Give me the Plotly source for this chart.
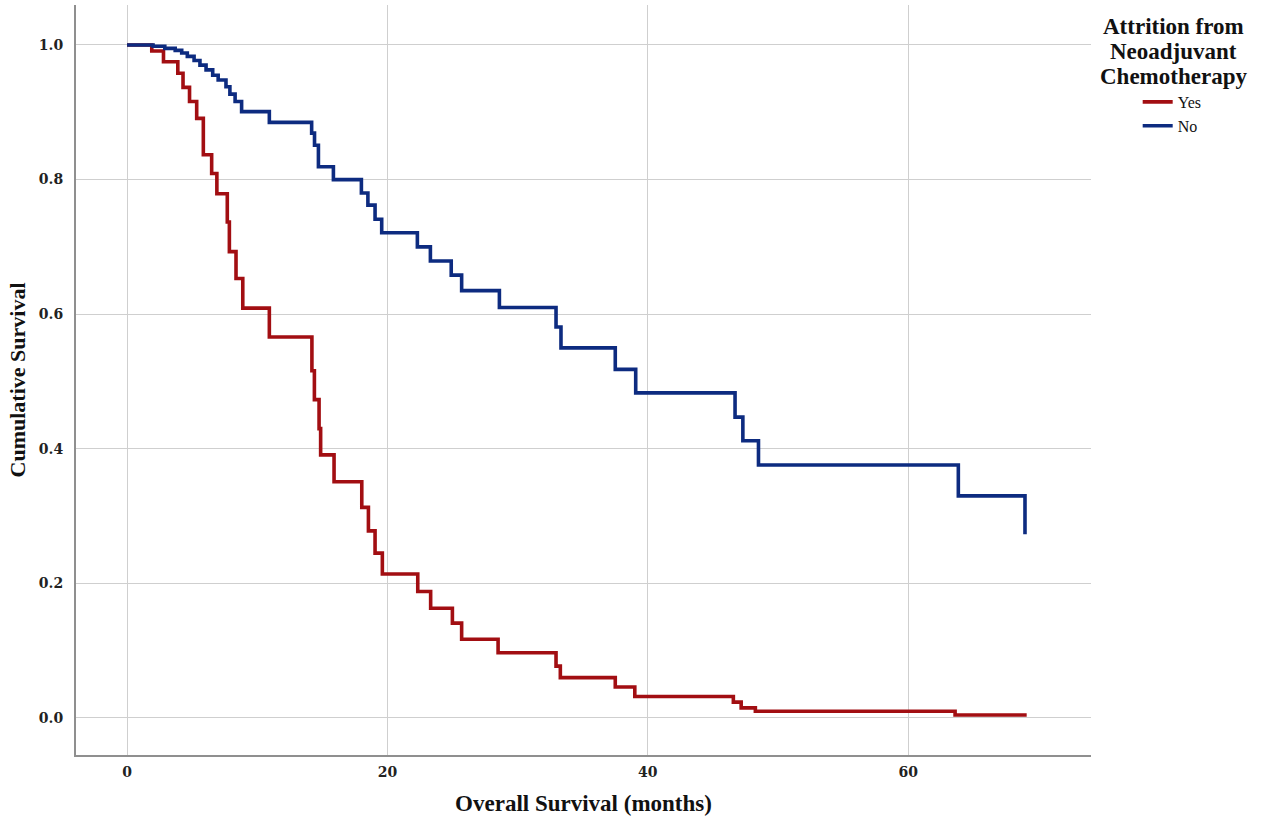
import plotly.graph_objects as go

# Kaplan-Meier step data
yes_time = [0, 1.9, 2.8, 3.9, 4.3, 4.8, 5.35, 5.86, 6.5, 6.9, 7.7, 7.86, 8.37, 8.89,
            10.93, 14.2, 14.39, 14.75, 14.87, 15.9, 18.03, 18.54, 19.05, 19.61,
            22.33, 23.32, 24.99, 25.7, 28.5, 32.95, 33.28, 37.5, 39.0, 46.57,
            47.17, 48.26, 63.6, 69.1]
yes_surv = [1.0, 0.991, 0.975, 0.958, 0.937, 0.916, 0.891, 0.837, 0.809, 0.779, 0.737,
            0.693, 0.653, 0.609, 0.566, 0.516, 0.473, 0.430, 0.391, 0.351, 0.313,
            0.278, 0.245, 0.214, 0.188, 0.163, 0.141, 0.117, 0.097, 0.077, 0.060,
            0.046, 0.032, 0.0235, 0.015, 0.010, 0.0045, 0.0045]

no_time = [0, 2.0, 2.9, 3.7, 4.2, 4.63, 5.15, 5.6, 6.07, 6.58, 7.0, 7.6, 7.9, 8.3, 8.8,
           10.93, 14.18, 14.4, 14.7, 15.85, 18.0, 18.5, 19.05, 19.56, 22.3, 23.3,
           24.9, 25.7, 28.6, 32.95, 33.33, 37.5, 39.07, 46.7, 47.3, 48.5, 63.85, 68.97]
no_surv = [1.0, 0.998, 0.995, 0.992, 0.988, 0.983, 0.977, 0.970, 0.963, 0.955, 0.948,
           0.938, 0.927, 0.916, 0.901, 0.885, 0.869, 0.851, 0.819, 0.800, 0.780,
           0.762, 0.741, 0.721, 0.700, 0.679, 0.658, 0.635, 0.610, 0.581, 0.550,
           0.518, 0.483, 0.447, 0.412, 0.376, 0.330, 0.273]

x_ticks = [0, 20, 40, 60]
y_ticks = [0.0, 0.2, 0.4, 0.6, 0.8, 1.0]
y_tick_labels = ["0.0", "0.2", "0.4", "0.6", "0.8", "1.0"]

legend_title_lines = ["Attrition from", "Neoadjuvant", "Chemotherapy"]

RED = "#A20E12"
BLUE = "#0D2B80"

fig = go.Figure()
fig.add_trace(go.Scatter(x=yes_time, y=yes_surv, mode="lines", name="Yes",
                         line=dict(color=RED, width=3.6, shape="hv")))
fig.add_trace(go.Scatter(x=no_time, y=no_surv, mode="lines", name="No",
                         line=dict(color=BLUE, width=3.6, shape="hv")))

W, H = 1272, 827
L, R, T, B = 76, 181, 5, 72

tick_font = dict(family="DejaVu Serif", size=14, color="#222222", weight="bold")
title_font = dict(family="Liberation Serif", size=22, color="#111111")

fig.update_layout(
    width=W, height=H,
    margin=dict(l=L, r=R, t=T, b=B, autoexpand=False),
    paper_bgcolor="white", plot_bgcolor="white",
    showlegend=True,
    legend=dict(x=1.046, y=(755 - 85) / 750, xanchor="left", yanchor="top",
                font=dict(family="Liberation Serif", size=16, color="#111111"),
                tracegroupgap=0, itemwidth=30, bgcolor="rgba(0,0,0,0)"),
    xaxis=dict(range=[-3.92, 74.04], tickvals=x_ticks, ticks="",
               showgrid=True, gridcolor="#CFCFCF", gridwidth=1,
               showline=True, linecolor="#8F8F8F", linewidth=2, zeroline=False,
               tickfont=tick_font, ticklabelstandoff=3,
               title=dict(text="<b>Overall Survival (months)</b>",
                          font=dict(family="Liberation Serif", size=23, color="#111111"),
                          standoff=16)),
    yaxis=dict(range=[-0.055, 1.0594], tickvals=y_ticks, ticktext=y_tick_labels, ticks="",
               showgrid=True, gridcolor="#CFCFCF", gridwidth=1,
               showline=True, linecolor="#8F8F8F", linewidth=2, zeroline=False,
               tickfont=tick_font, ticklabelstandoff=8,
               title=dict(text="<b>Cumulative Survival</b>", font=title_font, standoff=7)),
)

title_centers_px = [27, 51, 76]
for txt, cy in zip(legend_title_lines, title_centers_px):
    fig.add_annotation(text="<b>" + txt + "</b>", xref="paper", yref="paper",
                       x=(1173 - L) / (W - L - R), y=(755 - cy) / 750,
                       xanchor="center", yanchor="middle", showarrow=False,
                       font=dict(family="Liberation Serif", size=23, color="#111111"))

fig.write_html("out.html", config={"displayModeBar": False},
               post_script="document.body.style.margin='0px';")
